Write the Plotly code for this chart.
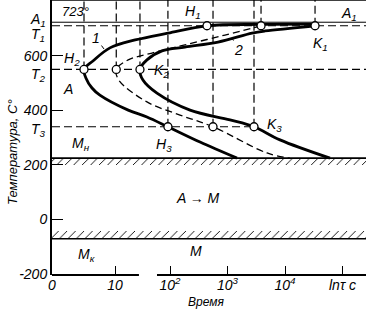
import numpy as np
import plotly.graph_objects as go

# ---------------- data (schematic TTT diagram) ----------------
T_A1 = 723          # A1 temperature, °C
T_1, T_2, T_3 = 710, 550, 340
T_MN, T_MN_HATCH = 225, 200     # Mн line and lower edge of its hatching
T_MK, T_MK_HATCH = -70, -42     # Mк line and upper edge of its hatching

# curve 1 : start of transformation (time s, temperature °C)
START_TIME = [33300, 3830, 440, 92, 13.2, 9.2, 6.5, 5.08, 5.4, 6.35, 7.6, 12.1, 26.4, 92, 333, 1462]
START_TEMP = [716, 715, 710, 683, 658, 629, 581, 550, 518, 482, 456, 401, 376, 340, 284, 225]
# dashed curve : intermediate degree of transformation
MID_TIME = [3830, 905, 182, 39.6, 12.1, 10.2, 10.6, 26.4, 149, 560, 4870, 12200]
MID_TEMP = [710, 676, 640, 610, 585, 550, 511, 431, 383, 340, 244, 225]
# curve 2 : end of transformation
END_TIME = [33300, 4490, 2668, 684, 182, 72.6, 26.4, 15, 19.1, 59.4, 223, 1105, 2890, 8180, 60700]
END_TEMP = [710, 691, 683, 650, 632, 618, 585, 550, 511, 463, 401, 365, 340, 292, 225]

# marked points
PT_T1_TIME = [440, 3830, 33300]     # H1, mid, K1
PT_T2_TIME = [5.08, 10.2, 15]       # H2, mid, K2
PT_T3_TIME = [92, 560, 2890]        # H3, mid, K3

X_TICK_TIMES = [0, 10, 100, 1000, 10000, 100000]
X_TICK_TEXT = ["0", "10", "10<sup>2</sup>", "10<sup>3</sup>", "10<sup>4</sup>", "lnτ c"]
Y_TICKS = [600, 400, 200, 0, -200]
Y_TICK_TEXT = ["600", "400", "200", "0", "-200"]

# ---------------- broken time scale (linear 0..14 s, then log) ----------------
LIN_END, LOG_START = 13.8, 59.4
PX_PER_S, PX_PER_DEC = 6.3, 57.5
U_100 = (170 - 52) / PX_PER_S
K_DEC = PX_PER_DEC / PX_PER_S


def xpos(t):
    t = np.asarray(t, dtype=float)
    lt = np.log10(np.maximum(t, 1e-9))
    u_log = U_100 + K_DEC * (lt - 2)
    u_ls = U_100 + K_DEC * (np.log10(LOG_START) - 2)
    frac = (lt - np.log10(LIN_END)) / (np.log10(LOG_START) - np.log10(LIN_END))
    u_gap = LIN_END + frac * (u_ls - LIN_END)
    return np.where(t <= LIN_END, t, np.where(t >= LOG_START, u_log, u_gap))


W, H = 366, 324
ML, MB = 52, 49
PW, PH = W - ML, H - MB
X_MAX = PW / PX_PER_S
Y_RANGE = [-203, 804.4]

FONT = "Liberation Sans"


def P(px, py):
    return (px - ML) / PW, 1 - py / PH


fig = go.Figure()

# hatched bands
for lo, hi in [(T_MN_HATCH, T_MN), (T_MK, T_MK_HATCH)]:
    fig.add_trace(go.Scatter(
        x=[0, X_MAX, X_MAX, 0, 0], y=[lo, lo, hi, hi, lo], fill="toself", mode="none",
        fillcolor="white",
        fillpattern=dict(shape="/", size=6, solidity=0.15, fgcolor="black",
                         bgcolor="white", fillmode="replace"),
        hoverinfo="skip", showlegend=False))
for T in [T_MN, T_MK]:
    fig.add_trace(go.Scatter(x=[0, X_MAX], y=[T, T], mode="lines",
                             line=dict(color="black", width=1.6), showlegend=False))

# A1 solid line
fig.add_trace(go.Scatter(x=[0, X_MAX], y=[T_A1, T_A1], mode="lines",
                         line=dict(color="black", width=1), showlegend=False))
# T1, T2 dashed across, T3 dashed up to K3
DASH = dict(color="black", width=1.2, dash="8px,4px")
fig.add_trace(go.Scatter(x=[0, X_MAX], y=[T_1, T_1], mode="lines", line=DASH, showlegend=False))
fig.add_trace(go.Scatter(x=[0, X_MAX], y=[T_2, T_2], mode="lines", line=DASH, showlegend=False))
fig.add_trace(go.Scatter(x=[0, float(xpos(PT_T3_TIME[-1]))], y=[T_3, T_3], mode="lines",
                         line=DASH, showlegend=False))

# vertical dashed lines from points to the top
vlines = [(t, T_2) for t in PT_T2_TIME] + [(t, T_3) for t in PT_T3_TIME] + \
         [(t, T_1) for t in PT_T1_TIME[1:]]
for t, T in vlines:
    u = float(xpos(t))
    fig.add_trace(go.Scatter(x=[u, u], y=[T, Y_RANGE[1]], mode="lines", line=DASH,
                             showlegend=False))

# curves
fig.add_trace(go.Scatter(x=xpos(START_TIME), y=START_TEMP, mode="lines",
                         line=dict(color="black", width=2.8, shape="spline", smoothing=1),
                         showlegend=False))
fig.add_trace(go.Scatter(x=xpos(MID_TIME), y=MID_TEMP, mode="lines",
                         line=dict(color="black", width=1.3, dash="7px,4px",
                                   shape="spline", smoothing=1), showlegend=False))
fig.add_trace(go.Scatter(x=xpos(END_TIME), y=END_TEMP, mode="lines",
                         line=dict(color="black", width=2.8, shape="spline", smoothing=1),
                         showlegend=False))

# points
pts_t = PT_T1_TIME + PT_T2_TIME + PT_T3_TIME
pts_T = [T_1] * 3 + [T_2] * 3 + [T_3] * 3
fig.add_trace(go.Scatter(x=xpos(pts_t), y=pts_T, mode="markers",
                         marker=dict(symbol="circle", size=8, color="white",
                                     line=dict(color="black", width=1.3)),
                         showlegend=False, cliponaxis=False))

# axis line segments (broken x axis)
shapes = [
    dict(type="line", xref="x", yref="paper", x0=0, x1=float(xpos(LIN_END)), y0=0, y1=0,
         line=dict(color="black", width=2)),
    dict(type="line", xref="x", yref="paper", x0=float(xpos(LOG_START)), x1=X_MAX, y0=0, y1=0,
         line=dict(color="black", width=2)),
    dict(type="line", xref="paper", yref="paper", x0=0, x1=1, y0=1, y1=1,
         line=dict(color="black", width=1.5)),
]

ann = []


def label(text, px, py, size=14, **kw):
    x, y = P(px, py)
    ann.append(dict(text=text, x=x, y=y, xref="paper", yref="paper", showarrow=False,
                    xanchor="center", yanchor="middle",
                    font=dict(family=FONT, size=size, color="black", style="italic"), **kw))


label("723°", 75, 11, 13)
label("A<sub>1</sub>", 38, 20)
label("T<sub>1</sub>", 38, 35)
label("T<sub>2</sub>", 38, 75)
label("T<sub>3</sub>", 38, 130)
label("H<sub>2</sub>", 72, 59)
label("A", 68, 89)
label("M<sub>н</sub>", 81, 144)
label("H<sub>3</sub>", 164, 145)
label("K<sub>3</sub>", 274, 125)
label("K<sub>2</sub>", 161, 71)
label("H<sub>1</sub>", 193, 12)
label("A<sub>1</sub>", 349, 14)
label("K<sub>1</sub>", 320, 44)
label("A → M", 198, 198)
label("M", 196, 251)
label("M<sub>к</sub>", 86, 255)
label("Время", 206, 302, 12)
label("Температура, С°", 12, 152, 13, textangle=-90)

# numbered leaders
for txt, t_tip, T_tip, ax, ay in [("1", 8.25, 625, -8, -11), ("2", 1197, 665, 7, 12)]:
    ann.append(dict(text=txt, x=float(xpos(t_tip)), y=T_tip, xref="x", yref="y",
                    showarrow=True, arrowhead=0, arrowwidth=1, arrowcolor="black",
                    ax=ax, ay=ay, standoff=0,
                    font=dict(family=FONT, size=14, color="black", style="italic")))

fig.update_layout(
    width=W, height=H, margin=dict(l=ML, r=0, t=0, b=MB),
    paper_bgcolor="white", plot_bgcolor="white",
    shapes=shapes, annotations=ann, showlegend=False,
    xaxis=dict(range=[0, X_MAX], showgrid=False, zeroline=False, showline=False,
               tickvals=[float(v) for v in xpos(X_TICK_TIMES)], ticktext=X_TICK_TEXT,
               ticks="inside", ticklen=9, tickwidth=1.2, tickcolor="black",
               tickfont=dict(family=FONT, size=14, color="black", style="italic")),
    yaxis=dict(range=Y_RANGE, showgrid=False, zeroline=False, showline=True,
               linecolor="black", linewidth=2, tickvals=Y_TICKS, ticktext=Y_TICK_TEXT,
               ticks="inside", ticklen=11, tickwidth=1.2, tickcolor="black",
               tickfont=dict(family=FONT, size=14, color="black", style="italic")),
)

fig.write_html("out.html", config={"displayModeBar": False})
